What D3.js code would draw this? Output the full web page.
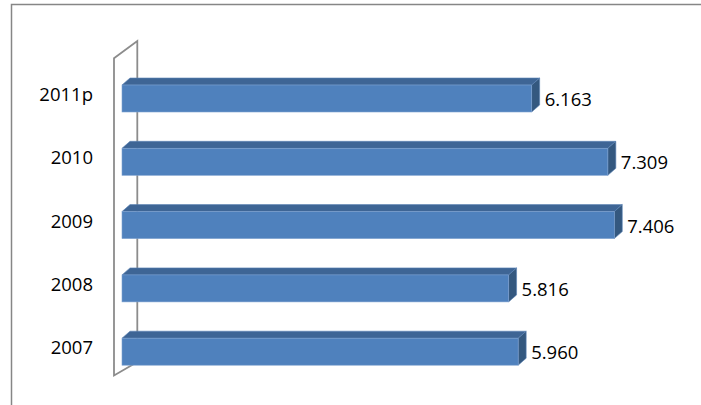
<!DOCTYPE html>
<html>
<head>
<meta charset="utf-8">
<script src="https://cdn.jsdelivr.net/npm/d3@7"></script>
<style>
  html, body { margin: 0; padding: 0; background: #fff; overflow: hidden; }
  svg { display: block; }
  text { font-family: "Open Sans", "Noto Sans", sans-serif; fill: #000; }
</style>
</head>
<body>
<svg id="chart" width="701" height="405"></svg>
<script>
// Data (top to bottom as displayed)
const categories = ["2011p", "2010", "2009", "2008", "2007"];
const values = [6.163, 7.309, 7.406, 5.816, 5.960];
const xDomain = [0, 8];

const W = 701, H = 405;
const svg = d3.select("#chart");

// Chart frame (only top and left edges are visible in the crop)
svg.append("path")
  .attr("d", `M11.5,${H} L11.5,4.5 L${W},4.5`)
  .attr("fill", "none").attr("stroke", "#868686").attr("stroke-width", 1.5);

const x = d3.scaleLinear().domain(xDomain).range([122, 122 + 8 * 66.47]);
const y = d3.scaleBand().domain(categories)
  .range([66.85, 383.35]).paddingInner(0.5735).paddingOuter(0.5735 / 2);

const dx = 8, dy = 7;

// 3D wall (left)
svg.append("path")
  .attr("d", "M137.3,362 L137.3,41 L114,58.3 L114,375.5 L137.3,362")
  .attr("fill", "none").attr("stroke", "#8c8c8c").attr("stroke-width", 1.8);

// Bars
const bars = svg.append("g");
categories.forEach((c, i) => {
  const v = values[i];
  const x0 = x(0), x1 = x(v);
  const y0 = y(c), y1 = y(c) + y.bandwidth();
  bars.append("path")
    .attr("d", `M${x0},${y0} L${x0 + dx},${y0 - dy} L${x1 + dx},${y0 - dy} L${x1},${y0} Z`)
    .attr("fill", "#3e6595").attr("stroke", "#5b83b5").attr("stroke-width", 0.6);
  bars.append("path")
    .attr("d", `M${x1},${y0} L${x1 + dx},${y0 - dy} L${x1 + dx},${y1 - dy} L${x1},${y1} Z`)
    .attr("fill", "#34587f").attr("stroke", "#5b83b5").attr("stroke-width", 0.6);
  bars.append("rect")
    .attr("x", x0).attr("y", y0).attr("width", x1 - x0).attr("height", y1 - y0)
    .attr("fill", "#4f81bd").attr("stroke", "#7da1cf").attr("stroke-width", 0.6);
  svg.append("text")
    .attr("x", x1 + dx + 5).attr("y", (y0 + y1) / 2)
    .attr("dominant-baseline", "central")
    .attr("font-size", "18.5px")
    .text(d3.format(".3f")(v));
  svg.append("text")
    .attr("x", 93).attr("y", (y0 + y1) / 2 - 5)
    .attr("text-anchor", "end")
    .attr("dominant-baseline", "central")
    .attr("font-size", "18.5px")
    .text(c);
});
</script>
</body>
</html>
